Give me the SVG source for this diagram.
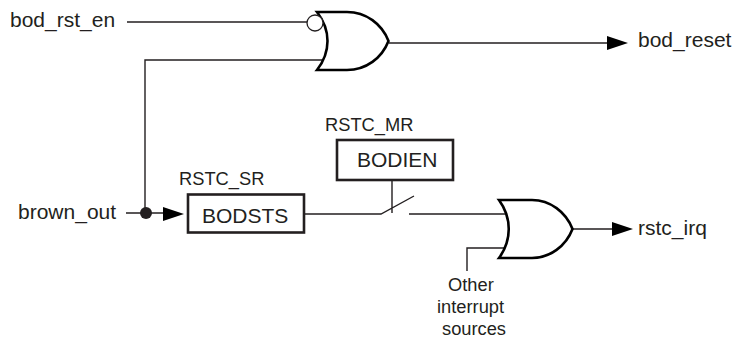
<svg xmlns="http://www.w3.org/2000/svg" width="735" height="339" viewBox="0 0 735 339">
<style>
text{font-family:"Liberation Sans",Arial,sans-serif;fill:#231f20;font-size:21px}
.s{font-size:18.300px}
.w{fill:none;stroke:#231f20;stroke-width:1.400}
.g{fill:#fff;stroke:#000;stroke-width:2.600}
.b{fill:#fff;stroke:#231f20;stroke-width:2.600}
.a{fill:#000;stroke:none}
</style>
<rect width="735" height="339" fill="#fff"/>
<g id="connectors">
<path class="w" d="M127 22H308M145 213V60H326M389 43H610M126 213H166M304 214H381L414 196M392 180V213M409 214H505M573 229H614M467 271V248H505"/>
<polygon class="a" points="607,36 628,43 607,50"/>
<polygon class="a" points="163,207 184,214 163,221"/>
<polygon class="a" points="612,222 633,229 612,236"/>
<circle cx="146" cy="213" r="6" fill="#231f20"/>
</g>
<g id="or1"><path class="g" d="M317 12H347C366 12 382 24 388.500 41C382 58 366 70 347 70H317C331 52 331 30 317 12Z"/><circle cx="315" cy="23" r="8" fill="#fff" stroke="#231f20" stroke-width="1.300"/></g>
<g id="or2"><path class="g" d="M499 200H532C550 200 566 212 572.500 229C566 246 550 258 532 258H499C512 240 512 218 499 200Z"/></g>
<g id="bodsts"><rect class="b" x="188" y="194.500" width="116" height="38"/><text x="202" y="223">BODSTS</text></g>
<g id="bodien"><rect class="b" x="337" y="140" width="116" height="40"/><text x="357" y="167">BODIEN</text></g>
<g id="labels">
<text x="10" y="27">bod_rst_en</text>
<text x="638" y="47">bod_reset</text>
<text x="18" y="219">brown_out</text>
<text x="638" y="235">rstc_irq</text>
<text class="s" x="179" y="185">RSTC_SR</text>
<text class="s" x="325" y="131">RSTC_MR</text>
<text class="s" x="448" y="291">Other</text>
<text class="s" x="437" y="313">interrupt</text>
<text class="s" x="442" y="335">sources</text>
</g>
</svg>
